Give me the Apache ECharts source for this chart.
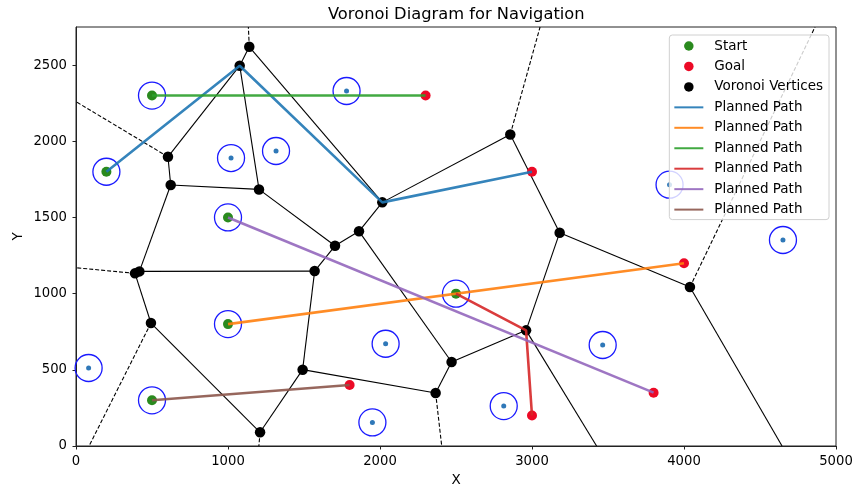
<!DOCTYPE html>
<html>
<head>
<meta charset="utf-8">
<script src="https://cdn.jsdelivr.net/npm/echarts@6/dist/echarts.min.js"></script>
<style>
html,body{margin:0;padding:0;background:#fff;}
#chart{width:855px;height:489px;}
</style>
</head>
<body>
<div id="chart"></div>
<script>
// ---- data ----
const xTicks = [0, 1000, 2000, 3000, 4000, 5000];
const yTicks = [0, 500, 1000, 1500, 2000, 2500];

const startPoints = [[200, 1800], [1000, 800], [500, 2300], [2500, 1000], [1000, 1500], [500, 300]];
const goalPoints  = [[3000, 1800], [4000, 1200], [2300, 2300], [3000, 200], [3800, 350], [1800, 400]];
const obstaclePoints = [[1780, 2330], [1020, 1890], [1316, 1936], [3905, 1715], [4651, 1352],
                        [83, 512], [2037, 671], [1950, 155], [2814, 262], [3465, 663]];

const voronoiVertices = [[1140, 2620], [1077, 2496], [605, 1898], [623, 1713], [1204, 1684],
  [2015, 1599], [1862, 1409], [1704, 1314], [388, 1133], [417, 1146], [1570, 1148],
  [493, 807], [1491, 501], [1211, 90], [2366, 348], [2471, 551], [2961, 759],
  [4039, 1043], [2857, 2045], [3182, 1400]];

const finiteEdges = [
  [[1140, 2620], [1077, 2496]], [[1140, 2620], [2015, 1599]], [[1077, 2496], [605, 1898]],
  [[1077, 2496], [1204, 1684]], [[605, 1898], [623, 1713]], [[623, 1713], [1204, 1684]],
  [[623, 1713], [417, 1146]], [[1204, 1684], [1704, 1314]], [[1704, 1314], [1862, 1409]],
  [[1862, 1409], [2015, 1599]], [[1862, 1409], [2471, 551]], [[1704, 1314], [1570, 1148]],
  [[1570, 1148], [417, 1146]], [[1570, 1148], [1491, 501]], [[388, 1133], [417, 1146]],
  [[388, 1133], [493, 807]], [[493, 807], [1211, 90]], [[1211, 90], [1491, 501]],
  [[1491, 501], [2366, 348]], [[2366, 348], [2471, 551]], [[2471, 551], [2961, 759]],
  [[2961, 759], [3182, 1400]], [[2961, 759], [3425, 0]], [[3182, 1400], [2857, 2045]],
  [[3182, 1400], [4039, 1043]], [[2857, 2045], [2015, 1599]], [[4039, 1043], [4645, 0]]
];
const infiniteEdges = [
  [[1140, 2620], [1134, 2750]], [[605, 1898], [0, 2260]], [[388, 1133], [0, 1170]],
  [[493, 807], [86, 0]], [[1211, 90], [1203, 0]], [[2366, 348], [2406, 0]],
  [[2857, 2045], [3053, 2750]], [[4039, 1043], [4862, 2750]]
];

const pathNames = ['Planned Path 1', 'Planned Path 2', 'Planned Path 3', 'Planned Path 4', 'Planned Path 5', 'Planned Path 6'];
const pathColors = ['#1f77b4', '#ff7f0e', '#2ca02c', '#d62728', '#9467bd', '#8c564b'];
const paths = [
  [[200, 1800], [1077, 2496], [2015, 1599], [3000, 1800]],
  [[1000, 800], [4000, 1200]],
  [[500, 2300], [2300, 2300]],
  [[2500, 1000], [2961, 759], [3000, 200]],
  [[1000, 1500], [3800, 350]],
  [[500, 300], [1800, 400]]
];

// ---- chart ----
const FONT = 'DejaVu Sans';
const chart = echarts.init(document.getElementById('chart'), null, {renderer: 'canvas'});

const series = [
  {
    type: 'lines', coordinateSystem: 'cartesian2d', silent: true, z: 2,
    data: finiteEdges.map(e => ({coords: e})),
    lineStyle: {color: '#000', width: 1.1, opacity: 1}
  },
  {
    type: 'lines', coordinateSystem: 'cartesian2d', silent: true, z: 2,
    data: infiniteEdges.map(e => ({coords: e})),
    lineStyle: {color: '#000', width: 1.1, type: [4, 2], opacity: 1}
  },
  {
    name: 'rings', type: 'scatter', z: 3, silent: true,
    data: startPoints.concat(obstaclePoints),
    symbol: 'circle', symbolSize: 27,
    itemStyle: {color: 'rgba(0,0,0,0)', borderColor: '#1a1aff', borderWidth: 1.3, opacity: 1}
  },
  {
    name: 'obstacles', type: 'scatter', z: 3, silent: true,
    data: obstaclePoints, symbolSize: 5,
    itemStyle: {color: '#2f78b8', opacity: 1}
  },
  {
    name: 'Voronoi Vertices', type: 'scatter', z: 4,
    data: voronoiVertices, symbolSize: 10.5,
    itemStyle: {color: '#000', opacity: 1}
  },
  {
    name: 'Start', type: 'scatter', z: 5,
    data: startPoints, symbolSize: 10,
    itemStyle: {color: '#2a8a1e', opacity: 1}
  },
  {
    name: 'Goal', type: 'scatter', z: 5,
    data: goalPoints, symbolSize: 10,
    itemStyle: {color: '#ec0a26', opacity: 1}
  }
];
paths.forEach((p, i) => {
  series.push({
    name: pathNames[i], type: 'line', z: 6,
    data: p, symbol: 'none', showSymbol: false,
    lineStyle: {color: pathColors[i], width: 2.6, opacity: 0.9},
    itemStyle: {color: pathColors[i], opacity: 0.9}
  });
});

const legendData = ['Start', 'Goal', 'Voronoi Vertices'].map(n => ({name: n}))
  .concat(pathNames.map(n => ({name: n, itemStyle: {color: 'rgba(0,0,0,0)', borderWidth: 0, opacity: 0}})));

const numFmt = v => String(v);

chart.setOption({
  animation: false,
  backgroundColor: '#fff',
  title: {
    text: 'Voronoi Diagram for Navigation',
    left: 328, top: 7, padding: 0,
    textStyle: {fontFamily: FONT, fontSize: 16.3, fontWeight: 'normal', color: '#000'}
  },
  grid: {left: 76, right: 19, top: 27, bottom: 43, containLabel: false, outerBoundsMode: 'none',
         show: true, borderColor: '#222', borderWidth: 1, backgroundColor: 'rgba(0,0,0,0)'},
  legend: {
    orient: 'vertical', right: 26, top: 35,
    data: legendData,
    formatter: name => name.replace(/ \d+$/, ''),
    backgroundColor: 'rgba(255,255,255,0.8)',
    borderColor: '#d0d0d0', borderWidth: 1, borderRadius: 3,
    padding: [4, 6, 3, 4],
    itemWidth: 29, itemHeight: 9.5, itemGap: 6.45,
    textStyle: {fontFamily: FONT, fontSize: 13.5, color: '#000', lineHeight: 14, padding: [0, 0, 0, 6]},
    selectedMode: false
  },
  xAxis: {
    type: 'value', min: 0, max: 5000, interval: 1000,
    name: 'X', nameLocation: 'middle', nameGap: 27, nameMoveOverlap: false,
    nameTextStyle: {fontFamily: FONT, fontSize: 13.5, color: '#000'},
    axisLine: {show: true, onZero: false, lineStyle: {color: '#222', width: 1}},
    axisTick: {show: true, length: 3.5, lineStyle: {color: '#222', width: 1}, customValues: xTicks},
    axisLabel: {fontFamily: FONT, fontSize: 13.2, color: '#000', margin: 9.5, customValues: xTicks, formatter: numFmt},
    splitLine: {show: false}
  },
  yAxis: {
    type: 'value', min: 0, max: 2750, interval: 500,
    name: 'Y', nameLocation: 'middle', nameGap: 51, nameRotate: 90, nameMoveOverlap: false,
    nameTextStyle: {fontFamily: FONT, fontSize: 13.5, color: '#000'},
    axisLine: {show: true, onZero: false, lineStyle: {color: '#222', width: 1}},
    axisTick: {show: true, length: 3.5, lineStyle: {color: '#222', width: 1}, customValues: yTicks},
    axisLabel: {fontFamily: FONT, fontSize: 13.2, color: '#000', margin: 9, customValues: yTicks, formatter: numFmt},
    splitLine: {show: false}
  },
  series: series
});
</script>
</body>
</html>
